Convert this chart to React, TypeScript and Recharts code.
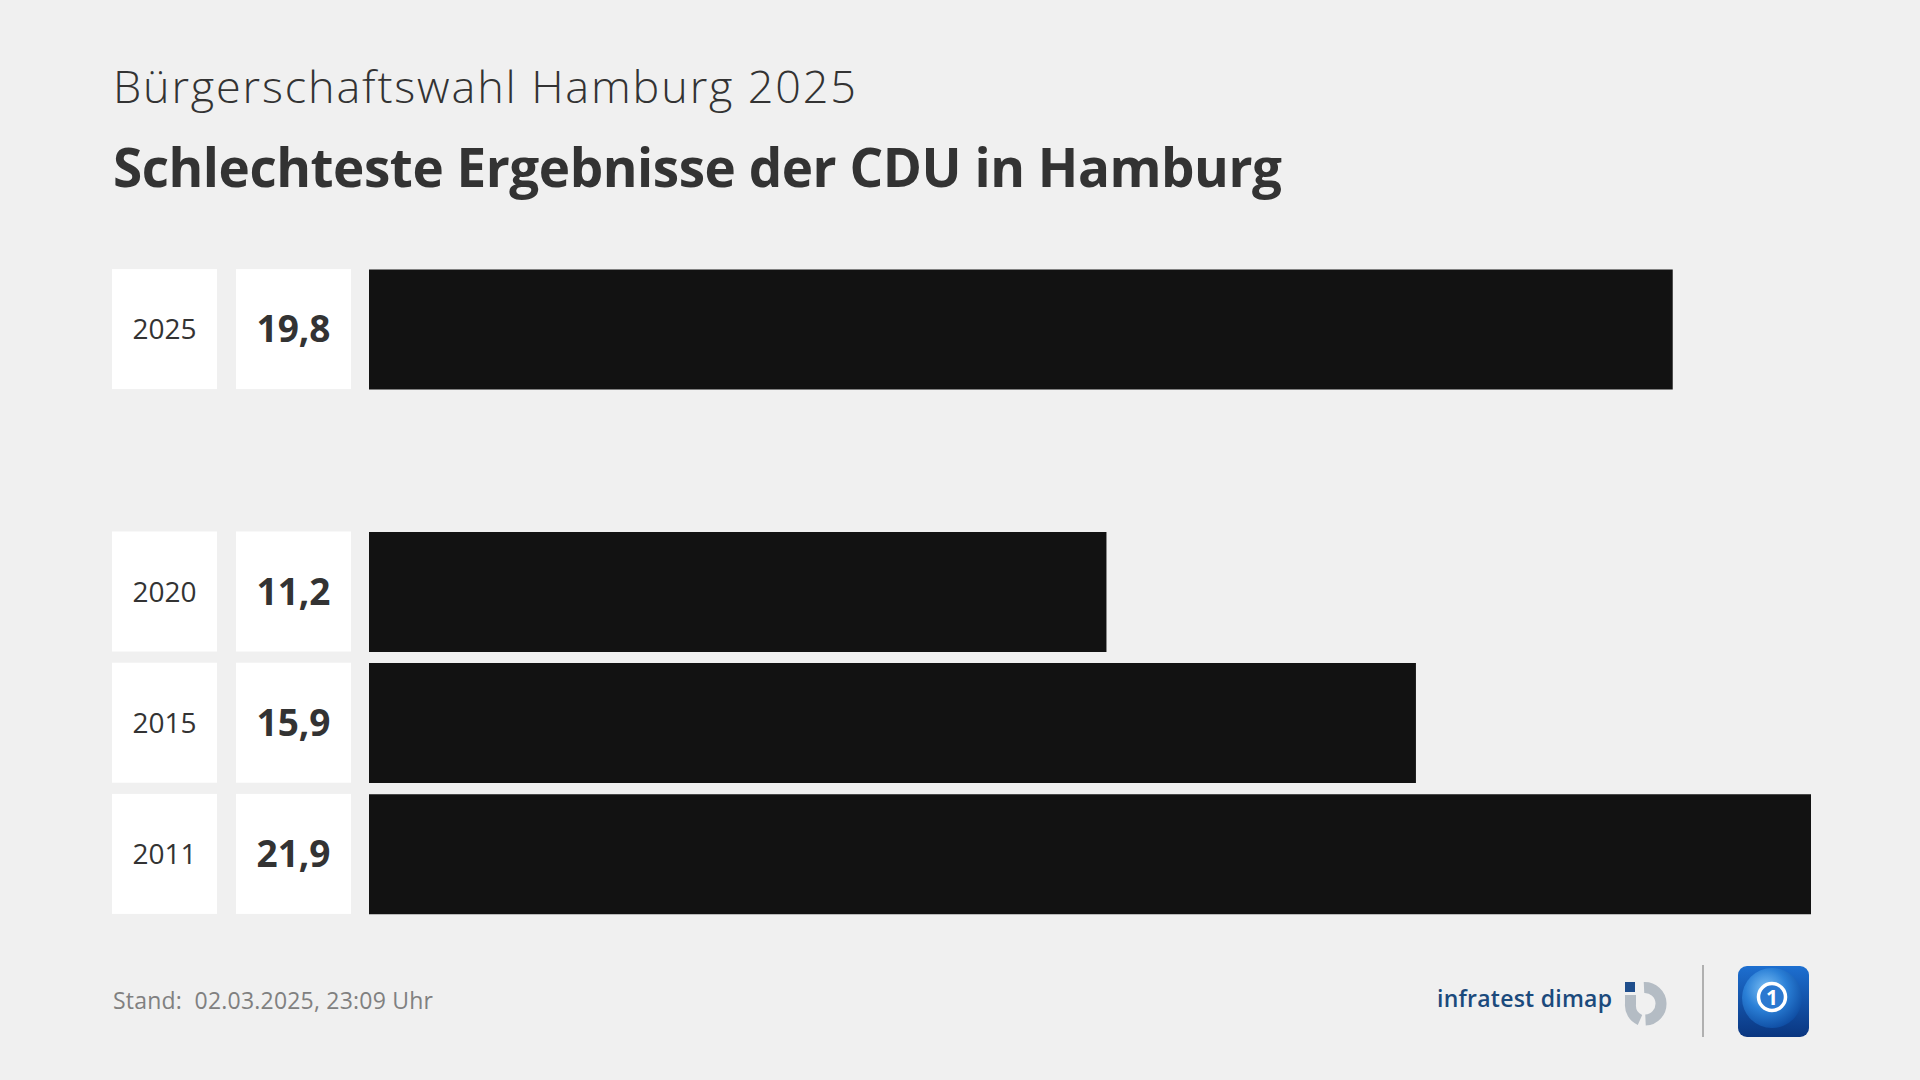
import React from "react";
import { BarChart, Bar, XAxis, YAxis } from "recharts";

const years = ["2025", " ", "2020", "2015", "2011"];
const values: (number | null)[] = [19.8, null, 11.2, 15.9, 21.9];
const valueLabels = ["19,8", "", "11,2", "15,9", "21,9"];
const subtitle = "Bürgerschaftswahl Hamburg 2025";
const title = "Schlechteste Ergebnisse der CDU in Hamburg";
const footer = "Stand:\u00a0\u00a002.03.2025, 23:09 Uhr";

const data = years.map((y, i) => ({ year: y, value: values[i], label: valueLabels[i] }));

const FONT = "'Open Sans', 'Noto Sans', sans-serif";

const RowTick = (props: any) => {
  const { y, payload } = props;
  const i = payload.index;
  if (!years[i] || years[i].trim() === "") return null;
  return (
    <g>
      <rect x={112} y={y - 60} width={105} height={120} fill="#ffffff" />
      <rect x={236} y={y - 60} width={115} height={120} fill="#ffffff" />
      <text x={164.5} y={y + 10} textAnchor="middle" fontFamily={FONT} fontSize={28} fill="#333333">
        {years[i]}
      </text>
      <text x={293.5} y={y + 13} textAnchor="middle" fontFamily={FONT} fontWeight={700} fontSize={37} fill="#333333">
        {valueLabels[i]}
      </text>
    </g>
  );
};

export default function App() {
  return (
    <div style={{ position: "absolute", left: 0, top: 0, width: 1920, height: 1080, background: "#f0f0f0", overflow: "hidden" }}>
      <div style={{ position: "absolute", left: 0, top: 0 }}>
        <BarChart
          width={1920}
          height={1080}
          data={data}
          layout="vertical"
          margin={{ top: 263.5, right: 109, bottom: 160.5, left: 0 }}
          barCategoryGap={11}
        >
          <XAxis type="number" domain={[0, 21.9]} allowDataOverflow hide height={0} />
          <YAxis
            type="category"
            dataKey="year"
            width={369}
            axisLine={false}
            tickLine={false}
            interval={0}
            tick={<RowTick />}
          />
          <Bar dataKey="value" fill="#121212" barSize={120} isAnimationActive={false} />
        </BarChart>
      </div>
      <svg width={1920} height={1080} style={{ position: "absolute", left: 0, top: 0, pointerEvents: "none" }}>
        <defs>
          <linearGradient id="tsBg" x1="0" y1="0" x2="0" y2="1">
            <stop offset="0" stopColor="#1d6fd0" />
            <stop offset="1" stopColor="#0a3680" />
          </linearGradient>
          <radialGradient id="tsGlobe" cx="0.4" cy="0.35" r="0.7">
            <stop offset="0" stopColor="#7cc0f5" />
            <stop offset="0.5" stopColor="#2a7fd6" />
            <stop offset="1" stopColor="#0d4aa0" />
          </radialGradient>
        </defs>
        <text x={113} y={103} fontFamily={FONT} fontWeight={300} fontSize={45} fill="#333333" textLength={743} lengthAdjust="spacing">
          {subtitle}
        </text>
        <text x={113} y={187} fontFamily={FONT} fontWeight={700} fontSize={53} fill="#333333" textLength={1169} lengthAdjust="spacing">
          {title}
        </text>
        <text x={113} y={1009} fontFamily={FONT} fontSize={23} fill="#808080" textLength={320} lengthAdjust="spacing">
          {footer}
        </text>
        <text x={1437} y={1007} fontFamily={FONT} fontWeight={600} fontSize={23} fill="#1b4a7c" textLength={175} lengthAdjust="spacing">
          infratest dimap
        </text>
        <rect x={1625} y={982} width={10} height={10} fill="#1f4e8c" />
        <path d="M 1644 987.5 A 16 16 0 1 1 1645.5 1020" fill="none" stroke="#b4bcc4" strokeWidth={11} />
        <path d="M 1640 1020 A 16 16 0 0 1 1630.5 1004 L 1630.5 995" fill="none" stroke="#b4bcc4" strokeWidth={11} />
        <rect x={1702} y={965} width={2} height={72} fill="#b0b0b0" />
        <rect x={1738} y={966} width={71} height={71} rx={9} fill="url(#tsBg)" />
        <circle cx={1772} cy={998} r={30} fill="url(#tsGlobe)" />
        <circle cx={1772} cy={997} r={13.5} fill="#2a78d0" stroke="#ffffff" strokeWidth={3.5} />
        <text x={1772} y={1005} textAnchor="middle" fontFamily={FONT} fontWeight={700} fontSize={21} fill="#ffffff">
          1
        </text>
      </svg>
    </div>
  );
}
